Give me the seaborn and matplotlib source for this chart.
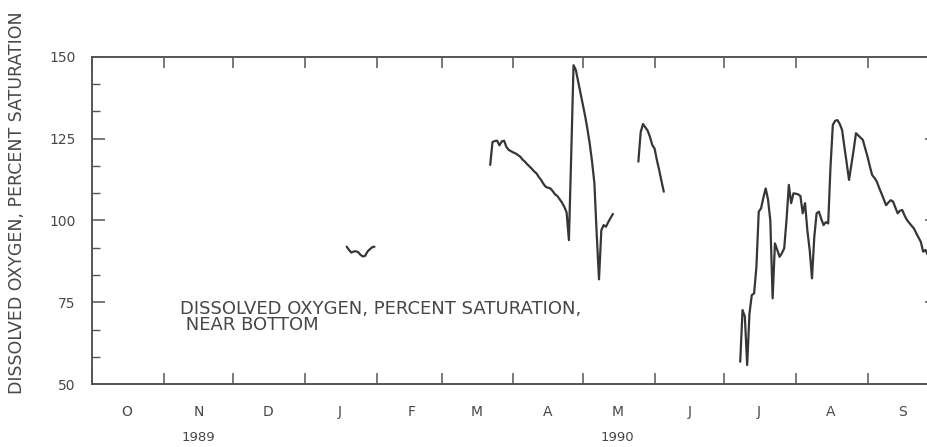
"""Dissolved oxygen near bottom, water year 1990 (Oct 1989 - Sep 1990)."""

import matplotlib
matplotlib.use("Agg")
import matplotlib.dates as mdates
import matplotlib.pyplot as plt
import pandas as pd
import seaborn as sns
from matplotlib.ticker import FuncFormatter, MultipleLocator

# daily values, one list per record segment
JAN_START = "1990-01-19"
JAN_PCT = [92, 91, 90.2, 90.5, 90.6, 90.3, 89.5, 89, 89.2, 90.5, 91.2, 91.8, 92]

SPRING_START = "1990-03-22"
SPRING_PCT = [
    117, 124, 124.3, 124.4, 123, 124.2, 124.4, 122.5, 121.6, 121.2,
    120.8, 120.5, 120, 119.5, 118.6, 118, 117.2, 116.5, 115.8, 115,
    114.4, 113.3, 112.4, 111.2, 110.3, 110, 109.8, 109, 108, 107.5,
    106.5, 105.5, 104.2, 102.5, 94, 120, 147.5, 146, 142.5, 139,
    135.5, 132, 128, 123.5, 118, 111.5, 96, 82, 97, 98.6,
    98.1, 99.5, 100.8, 102,
]

LATE_MAY_START = "1990-05-25"
LATE_MAY_PCT = [118, 127, 129.5, 128.5, 127.5, 125.6, 123.1, 122, 118.5, 115.4, 112, 108.8]

SUMMER_START = "1990-07-08"
SUMMER_PCT = [
    56.8, 72.6, 70.6, 55.8, 71.6, 77.2, 77.7, 85.9, 102.7, 103.7,
    107, 109.8, 106.5, 100, 76.2, 93, 91, 88.9, 90, 91.5,
    100.2, 110.9, 105.3, 108.3,
    108.2, 108, 107.5, 102.2, 105.3, 97, 91, 82.3, 95, 102.2,
    102.7, 100.5, 98.6, 99.5, 99.1, 116.5, 129.2, 130.5, 130.7, 129.5,
    127.7, 122.5, 117.5, 112.4, 117, 121.6, 126.7, 126, 125.3, 124.6,
    122,
    119.5, 116.5, 113.9, 113, 111.9, 110, 108.3, 106.5, 104.7, 105.5,
    106.2, 105.8, 104, 102.2, 103, 103.2, 101.5, 100.2, 99.3, 98.4,
    97.6, 96.2, 94.8, 93.5, 90.5, 91, 89.5, 88.5, 88, 87.5,
]

MONTH_LETTERS = ["O", "N", "D", "J", "F", "M", "A", "M", "J", "J", "A", "S"]
YEAR_LABELS = {"1989": "1989-11-16", "1990": "1990-05-16"}

INK = "#363636"
TEXT = "#474747"


def build_frame() -> pd.DataFrame:
    parts = []
    for seg, (start, vals) in enumerate(
        [(JAN_START, JAN_PCT), (SPRING_START, SPRING_PCT),
         (LATE_MAY_START, LATE_MAY_PCT), (SUMMER_START, SUMMER_PCT)]
    ):
        dates = pd.date_range(start, periods=len(vals), freq="D")
        parts.append(pd.DataFrame({"date": dates, "pct": vals, "segment": seg}))
    return pd.concat(parts, ignore_index=True)


df = build_frame()

sns.set_theme(style="white")
plt.rcParams["font.family"] = ["DejaVu Sans"]

W, H = 927, 447
fig = plt.figure(figsize=(W / 100, H / 100), dpi=100)
# right spine lies just past the image edge in the scan
ax = fig.add_axes([92 / W, (H - 384) / H, (937 - 92) / W, (384 - 57) / H])

sns.lineplot(
    data=df, x="date", y="pct", units="segment", estimator=None,
    color=INK, linewidth=1.6, ax=ax, legend=False,
)

ax.set_xlim(pd.Timestamp("1989-10-01"), pd.Timestamp("1990-10-01"))
ax.set_ylim(50, 150)

ax.yaxis.set_major_locator(MultipleLocator(25))
ax.yaxis.set_minor_locator(MultipleLocator(25 / 3))
ax.xaxis.set_major_locator(mdates.MonthLocator())
ax.xaxis.set_major_formatter(FuncFormatter(lambda v, p: ""))
ax.xaxis.set_minor_locator(mdates.MonthLocator(bymonthday=16))
ax.xaxis.set_minor_formatter(
    FuncFormatter(lambda v, p: MONTH_LETTERS[(mdates.num2date(v).month - 10) % 12])
)

ax.tick_params(axis="y", which="major", direction="in", length=9, width=1.1,
               colors="#555555", labelcolor=TEXT, labelsize=10, pad=12,
               left=True, right=True)
ax.tick_params(axis="y", which="minor", direction="in", length=6, width=1.0,
               colors="#555555", left=True, right=True)
ax.tick_params(axis="x", which="major", direction="in", length=8, width=1.1,
               colors="#555555", bottom=True, top=True)
ax.tick_params(axis="x", which="minor", length=0, labelsize=10,
               labelcolor=TEXT, pad=15)

for spine in ax.spines.values():
    spine.set_color("#555555")
    spine.set_linewidth(1.4)

ax.set_xlabel("")
ax.set_ylabel("DISSOLVED OXYGEN, PERCENT SATURATION", fontsize=12.5, color=TEXT)
ax.yaxis.set_label_coords(-0.078, 0.555)

for year, when in YEAR_LABELS.items():
    ax.text(pd.Timestamp(when), -0.165, year, transform=ax.get_xaxis_transform(),
            ha="center", va="center", fontsize=9.5, color=TEXT)

ax.text(0.104, 0.205, "DISSOLVED OXYGEN, PERCENT SATURATION,\n NEAR BOTTOM",
        transform=ax.transAxes, ha="left", va="center", fontsize=13,
        color=TEXT, linespacing=0.9)

fig.savefig("out.png", dpi=100)
